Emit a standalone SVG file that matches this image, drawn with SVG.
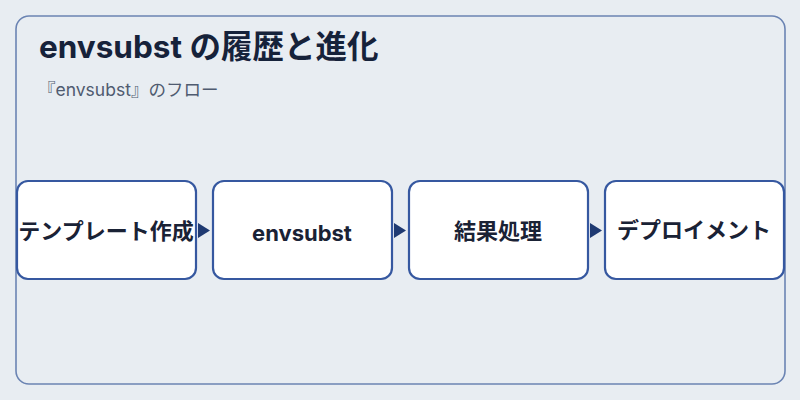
<svg xmlns="http://www.w3.org/2000/svg" width="800" height="400" viewBox="0 0 800 400">
<defs>
<style>
.frame{fill:#e8edf2;stroke:#6b84b3;stroke-width:1.6}
.node{fill:#ffffff;stroke:#3658a0;stroke-width:2.2}
.lbl{font-family:Inter,"Noto Sans CJK JP",sans-serif;font-weight:bold;font-size:22px;fill:#1a2235;text-anchor:middle;dominant-baseline:central}
.title{font-family:Inter,"Noto Sans CJK JP",sans-serif;font-weight:bold;font-size:31.5px;fill:#16223a}
.sub{font-family:Inter,"Noto Sans CJK JP",sans-serif;font-size:17.5px;fill:#4f5b70}
.arr{fill:#1f3a72}
</style>
</defs>
<rect width="800" height="400" fill="#e8edf2"/>
<rect class="frame" x="16" y="16" width="769" height="368" rx="13"/>
<text class="title" x="39" y="58">envsubst の履歴と進化</text>
<text class="sub" x="38" y="96">『envsubst』のフロー</text>
<g id="connectors">
<polygon class="arr" points="198,223 210,230.5 198,238"/>
<polygon class="arr" points="394,223 406,230.5 394,238"/>
<polygon class="arr" points="590,223 602,230.5 590,238"/>
</g>
<g id="n1"><rect class="node" x="17" y="181" width="179" height="98" rx="11"/><text class="lbl" x="106" y="231">テンプレート作成</text></g>
<g id="n2"><rect class="node" x="213" y="181" width="179" height="98" rx="11"/><text class="lbl" x="302" y="233">envsubst</text></g>
<g id="n3"><rect class="node" x="409" y="181" width="179" height="98" rx="11"/><text class="lbl" x="498" y="231">結果処理</text></g>
<g id="n4"><rect class="node" x="605" y="181" width="179" height="98" rx="11"/><text class="lbl" x="694" y="230">デプロイメント</text></g>
</svg>
